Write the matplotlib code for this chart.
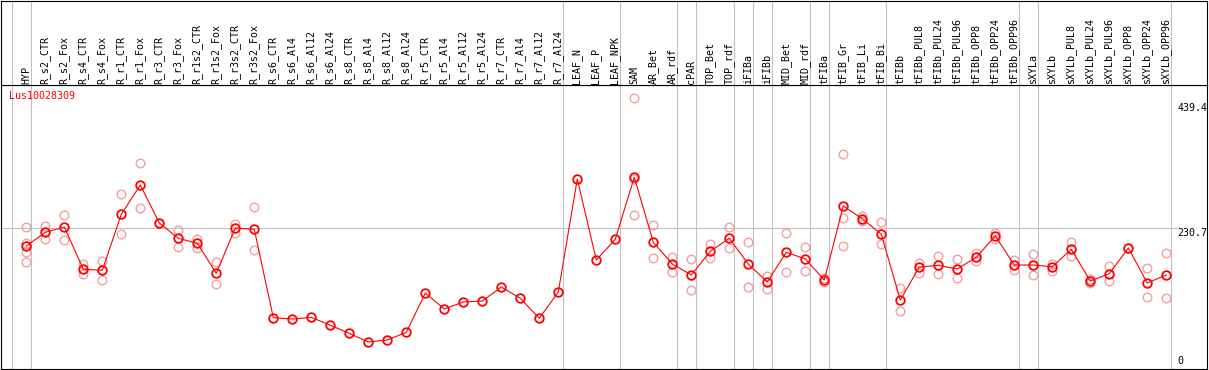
import numpy as np
import matplotlib
matplotlib.use('Agg')
import matplotlib.pyplot as plt

gene = 'Lus10028309'

labels = ['HYP', 'R_s2_CTR', 'R_s2_Fox', 'R_s4_CTR', 'R_s4_Fox', 'R_r1_CTR', 'R_r1_Fox',
          'R_r3_CTR', 'R_r3_Fox', 'R_r1s2_CTR', 'R_r1s2_Fox', 'R_r3s2_CTR', 'R_r3s2_Fox',
          'R_s6_CTR', 'R_s6_Al4', 'R_s6_Al12', 'R_s6_Al24', 'R_s8_CTR', 'R_s8_Al4',
          'R_s8_Al12', 'R_s8_Al24', 'R_r5_CTR', 'R_r5_Al4', 'R_r5_Al12', 'R_r5_Al24',
          'R_r7_CTR', 'R_r7_Al4', 'R_r7_Al12', 'R_r7_Al24', 'LEAF_N', 'LEAF_P', 'LEAF_NPK',
          'SAM', 'AR_Bet', 'AR_rdf', 'cPAR', 'TOP_Bet', 'TOP_rdf', 'iFIBa', 'iFIBb',
          'MID_Bet', 'MID_rdf', 'tFIBa', 'tFIB_Gr', 'tFIB_Li', 'tFIB_Bi', 'tFIBb',
          'tFIBb_PUL8', 'tFIBb_PUL24', 'tFIBb_PUL96', 'tFIBb_OPP8', 'tFIBb_OPP24',
          'tFIBb_OPP96', 'sXYLa', 'sXYLb', 'sXYLb_PUL8', 'sXYLb_PUL24', 'sXYLb_PUL96',
          'sXYLb_OPP8', 'sXYLb_OPP24', 'sXYLb_OPP96']

means = [200.7, 223.5, 232.4, 161.8, 160.1, 253.6, 302.5, 239.1, 213.5, 205.2, 155.1,
         230.7, 228.5, 81.0, 78.8, 81.6, 68.3, 54.9, 40.4, 43.7, 56.6, 122.2, 95.5,
         107.2, 108.8, 132.2, 113.4, 80.0, 123.9, 312.5, 177.3, 211.9, 315.4, 206.8,
         170.6, 152.3, 191.8, 213.5, 170.6, 140.6, 190.2, 179.0, 143.9, 267.4, 246.2,
         220.2, 110.5, 165.5, 168.4, 162.3, 181.8, 217.4, 168.9, 168.9, 166.1, 195.2,
         142.2, 154.4, 197.3, 138.9, 152.3]

# replicate values (pale circles)
reps = [[231.9, 206.2, 190.2, 173.5], [234.6, 212.9], [251.9, 210.2], [171.1, 153.4],
        [175.6, 144.4], [287.0, 220.2], [338.7, 263.6], [239.1], [227.4, 198.5],
        [212.9, 197.8], [174.0, 136.7], [237.4, 221.9], [265.8, 194.0],
        [], [], [], [], [], [], [], [], [], [], [], [], [], [], [], [], [], [], [],
        [447.2, 312.0, 251.9], [235.2, 180.1], [182.3, 157.8], [178.5, 126.7],
        [204.0, 180.1], [232.4, 196.8], [206.8, 131.7], [151.1, 129.4], [221.9, 156.8],
        [199.0, 158.4], [147.2, 140.6], [353.8, 246.9, 200.2], [250.8, 242.4],
        [240.2, 204.0], [130.1, 92.2], [172.3, 156.1], [184.0, 153.9], [178.5, 146.7],
        [189.0, 175.1], [222.9, 211.9], [177.8, 160.1], [187.3, 151.8], [171.1, 158.9],
        [207.3, 183.5], [146.1, 138.4], [167.3, 141.7], [197.3], [163.9, 115.5],
        [189.0, 113.4]]

# last category of each group (vertical separators)
group_ends = [-1, 0, 28, 31, 34, 35, 37, 38, 39, 41, 42, 45, 52, 53, 60]
yticks = [0, 230.7, 439.4]

W, H = 1209, 370
fig = plt.figure(figsize=(W / 100, H / 100), dpi=100)


def px(x0, y0, w, h):
    return [x0 / W, 1 - (y0 + h) / H, w / W, h / H]


ax = fig.add_axes(px(1, 85, 1206, 283.5))
hd = fig.add_axes(px(1, 0.5, 1206, 84.5))

x = np.arange(len(labels))
xlim = ((1 - 26.3) / 19, (1207 - 26.3) / 19)
for a in (ax, hd):
    a.set_xlim(xlim)
    a.set_xticks([])
    a.set_yticks([])
    for s in a.spines.values():
        s.set_linewidth(0.8)
        s.set_color('black')
    for e in group_ends:
        a.axvline(e + 0.23, color='#c0c0c0', lw=0.8, zorder=0)

ax.set_ylim((366.2 - 368.5) / 0.599, (366.2 - 85) / 0.599)
hd.set_ylim(85, 0.5)

mono = 'DejaVu Sans Mono'
fs = 7.2

# grid line stops just before the value labels on the right
ax.hlines(yticks[1], xlim[0], 60.55, color='#c0c0c0', lw=0.8, zorder=0)

for i, r in enumerate(reps):
    ax.plot([i] * len(r), r, 'o', ms=6.2, mfc='none', mec='#f0a0a0', mew=1.0,
            ls='none', zorder=2)
ax.plot(x, means, '-', color='red', lw=0.8, zorder=3)
ax.plot(x, means, 'o', ms=6.2, mfc='none', mec='red', mew=1.3, ls='none', zorder=4)

for t in yticks:
    va = 'bottom' if t == 0 else 'top'
    ax.text(60.6, t, f'{t:g}', fontsize=fs, family=mono, ha='left', va=va)

ax.annotate(gene, xy=(9, 370 - 91), xycoords='figure pixels', fontsize=fs,
            family=mono, color='red', ha='left', va='top')

for i, lab in enumerate(labels):
    hd.text(i - 0.02, 83.5, lab, rotation=90, fontsize=fs, family=mono,
            ha='center', va='bottom')

fig.savefig('out.png', dpi=100)
